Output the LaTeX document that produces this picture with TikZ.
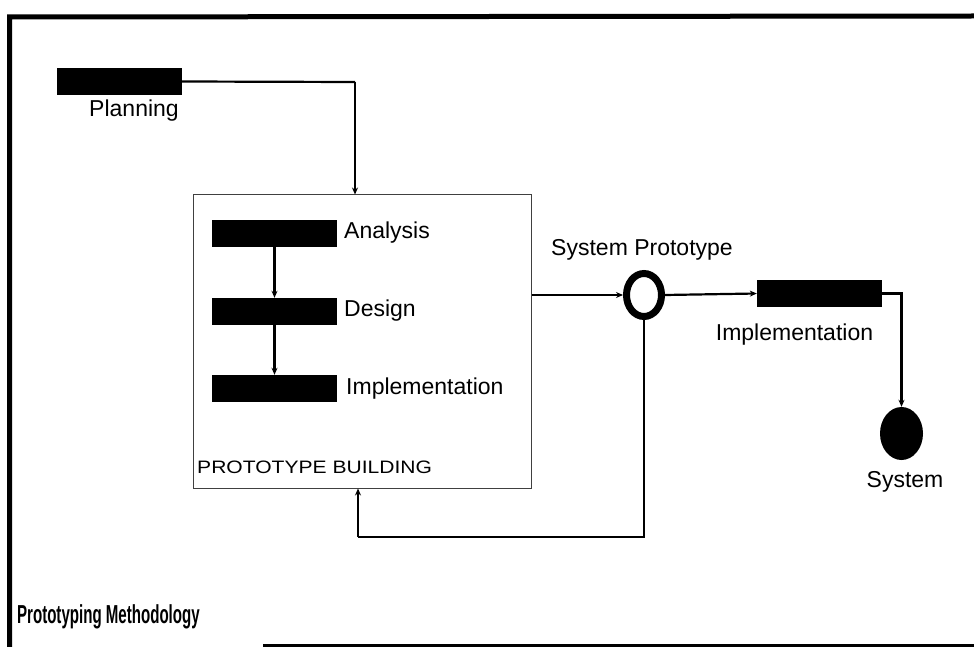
\documentclass[tikz,border=0pt]{standalone}
\usepackage{fontspec}
\setmainfont{Liberation Sans}
\usetikzlibrary{arrows.meta,shapes.geometric}

\tikzset{
  bar/.style={fill=black, draw=none, inner sep=0pt, minimum width=125pt, minimum height=27pt},
  lbl/.style={font=\fontsize{23}{26}\selectfont, inner sep=0pt},
  conn/.style={line width=2.2pt, -{Stealth[length=7pt,width=6pt]}},
  plain/.style={line width=2.2pt},
}

\begin{document}
\begin{tikzpicture}[x=1pt, y=-1pt]
  \useasboundingbox (0,0) rectangle (974,647);

  % outer frame (top, left, bottom)
  \draw[line width=5pt] (974,16) -- (9.5,17) -- (9.5,647);
  \draw[line width=3pt] (263,645.5) -- (974,645.5);

  % planning
  \node[bar] (planbar) at (119.5,81.5) {};
  \node[lbl] (planlbl) at (134,111) {Planning};

  % prototype building group
  \node[draw=black!75, line width=1pt, minimum width=338pt, minimum height=293pt, inner sep=0pt]
    (protobox) at (362,341.5) {};
  \node[bar] (anabar) at (274.5,233.5) {};
  \node[bar] (desbar) at (274.5,311.5) {};
  \node[bar] (impbar) at (274.5,388.5) {};
  \node[lbl, anchor=west] (analbl) at (344,233) {Analysis};
  \node[lbl, anchor=west] (deslbl) at (344,311) {Design};
  \node[lbl, anchor=west] (implbl) at (346,389) {Implementation};
  \node[anchor=west, inner sep=0pt, font=\fontsize{18}{20}\selectfont, xscale=1.17, transform shape]
    (protolbl) at (197,467) {PROTOTYPE BUILDING};

  % system prototype
  \node[ellipse, draw=black, line width=7pt, fill=white, minimum width=35pt, minimum height=43pt, inner sep=0pt]
    (ring) at (644,295) {};
  \node[lbl] (ringlbl) at (642,250) {System Prototype};

  % implementation and system
  \node[bar] (impbar2) at (819.5,293.5) {};
  \node[lbl] (implbl2) at (794.5,335) {Implementation};
  \node[ellipse, fill=black, minimum width=43pt, minimum height=53pt, inner sep=0pt]
    (sys) at (901.5,433.5) {};
  \node[lbl] (syslbl) at (905,482) {System};

  % title
  \node[anchor=west, inner sep=0pt, font=\bfseries\fontsize{26}{28}\selectfont, xscale=0.58, transform shape]
    (title) at (17,617) {Prototyping Methodology};

  % connectors
  \coordinate (pc) at (355,82);
  \draw[plain] (planbar.east) -- (pc);
  \draw[conn] (pc) -- (pc |- protobox.north);
  \draw[conn] (anabar.south) -- (desbar.north);
  \draw[conn] (desbar.south) -- (impbar.north);
  \draw[conn] (protobox.east |- ring.west) -- (ring.west);
  \draw[conn] (ring.east) -- (impbar2.west);
  \draw[conn] (impbar2.east) -| (sys.north);
  \coordinate (fb) at (358,537);
  \draw[plain] (ring.south) |- (fb);
  \draw[conn] (fb) -- (fb |- protobox.south);
\end{tikzpicture}
\end{document}
